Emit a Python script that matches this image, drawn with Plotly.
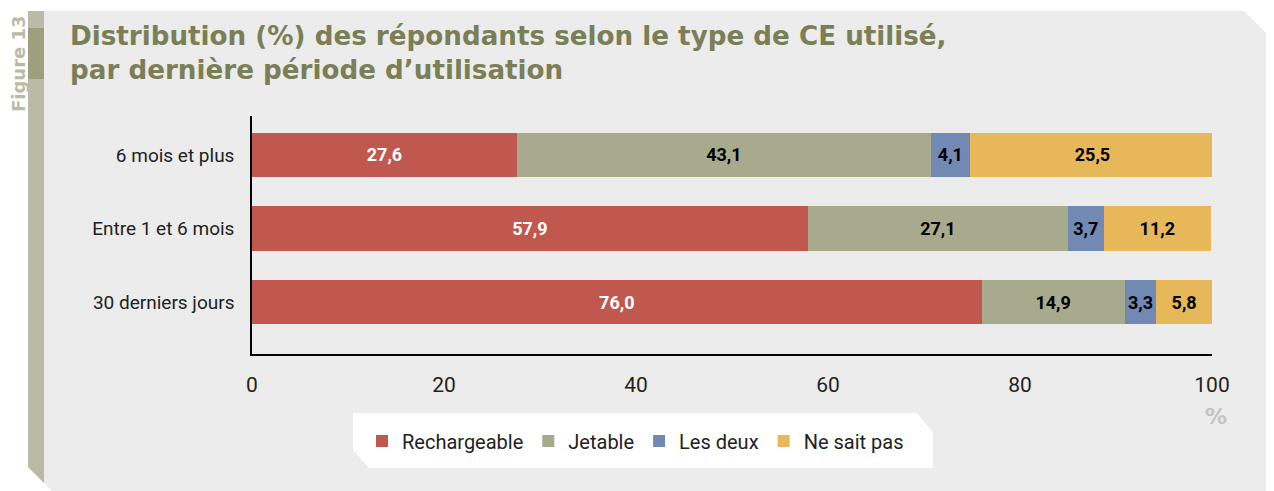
import plotly.graph_objects as go

categories = ["30 derniers jours", "Entre 1 et 6 mois", "6 mois et plus"]
series_names = ["Rechargeable", "Jetable", "Les deux", "Ne sait pas"]
rechargeable = [76.0, 57.9, 27.6]
jetable = [14.9, 27.1, 43.1]
les_deux = [3.3, 3.7, 4.1]
ne_sait_pas = [5.8, 11.2, 25.5]
x_ticks = [0, 20, 40, 60, 80, 100]

colors = ["#c0584f", "#a7aa8c", "#7289b3", "#e7b85a"]
text_colors = ["white", "black", "black", "black"]

OFF = 8  # default page body margin
W, H = 1274 - OFF, 491 - OFF
L, R, T, B = 252, 1212, 116, 354

def px(x):
    return (x - L) / (R - L)

def py(y):
    return (B - y) / (B - T)

def poly(points):
    return "M " + " L ".join(f"{px(x):.5f},{py(y):.5f}" for x, y in points) + " Z"

cond = "Roboto, sans-serif"

fig = go.Figure()
values = [rechargeable, jetable, les_deux, ne_sait_pas]
for name, vals, c, tc in zip(series_names, values, colors, text_colors):
    fig.add_trace(go.Bar(
        y=categories, x=vals, name=name, orientation="h",
        marker=dict(color=c, line=dict(width=0)),
        text=[f"{v:.1f}".replace(".", ",") for v in vals],
        textposition="inside", insidetextanchor="middle", textangle=0,
        textfont=dict(color=tc, size=18, family=cond, weight="bold"),
        width=0.6, hoverinfo="skip",
    ))

shapes = [
    dict(type="path", xref="paper", yref="paper", layer="below",
         path=poly([(28, 11), (1244, 11), (1274, 41), (1274, 491), (52, 491), (28, 467)]),
         fillcolor="#ececec", line=dict(width=0)),
    dict(type="path", xref="paper", yref="paper", layer="below",
         path=poly([(28, 11), (44, 11), (44, 483), (28, 467)]),
         fillcolor="#b9bba6", line=dict(width=0)),
    dict(type="path", xref="paper", yref="paper", layer="below",
         path=poly([(28, 28), (44, 28), (44, 79), (28, 79)]),
         fillcolor="#9d9f7d", line=dict(width=0)),
    dict(type="path", xref="paper", yref="paper", layer="below",
         path=poly([(353, 413), (917, 413), (933, 432), (933, 468), (369, 468), (353, 450)]),
         fillcolor="white", line=dict(width=0)),
]

annotations = [
    dict(text="Distribution (%) des répondants selon le type de CE utilisé,<br>par dernière période d’utilisation",
         xref="paper", yref="paper", x=px(68), y=py(19), xanchor="left", yanchor="top",
         align="left", showarrow=False,
         font=dict(family="DejaVu Sans", size=26.2, color="#7b7f57", weight="bold")),
    dict(text="Figure 13", textangle=-90, xref="paper", yref="paper",
         x=px(18), y=py(64), xanchor="center", yanchor="middle", showarrow=False,
         borderpad=0,
         font=dict(family="DejaVu Sans", size=18, color="#b9bba6", weight="bold")),
    dict(text="%", xref="paper", yref="paper", x=px(1216), y=py(416),
         xanchor="center", yanchor="middle", showarrow=False,
         font=dict(family="DejaVu Sans", size=22, color="#c4c4c4", weight="bold")),
]

fig.update_layout(
    barmode="stack",
    width=W, height=H,
    margin=dict(l=L - OFF, r=1274 - R, t=T - OFF, b=491 - B, pad=0),
    paper_bgcolor="white", plot_bgcolor="rgba(0,0,0,0)",
    showlegend=True,
    legend=dict(orientation="h", x=px(362), y=py(441), xanchor="left", yanchor="middle",
                bgcolor="rgba(0,0,0,0)", font=dict(family=cond, size=20, color="#222"),
                traceorder="normal", itemsizing="constant"),
    uniformtext=dict(minsize=17, mode="show"),
    xaxis=dict(range=[0, 100], tickvals=x_ticks, showgrid=False, zeroline=False,
               showline=True, linecolor="black", linewidth=1.5,
               ticks="", ticklabelstandoff=11,
               tickfont=dict(family=cond, size=21, color="#222")),
    yaxis=dict(range=[-0.707, 2.53], showgrid=False, zeroline=False,
               showline=True, linecolor="black", linewidth=1.5,
               ticks="", ticklabelstandoff=12,
               tickfont=dict(family=cond, size=19, color="#222")),
    shapes=shapes, annotations=annotations,
)

fig.write_html("out.html")
